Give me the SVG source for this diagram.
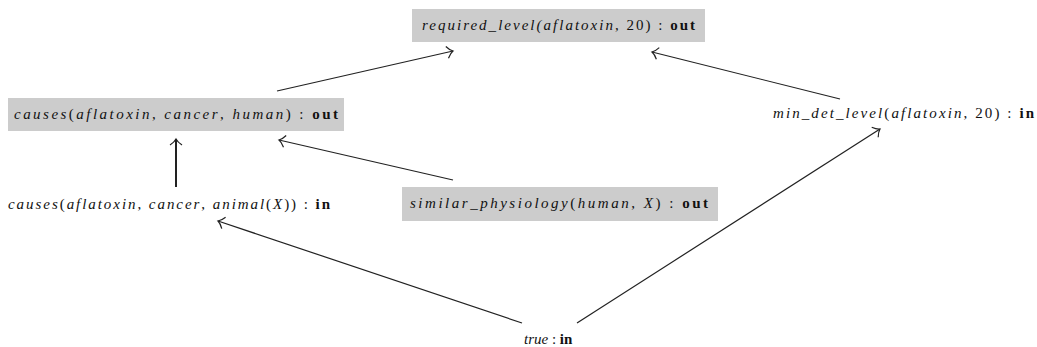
<svg xmlns="http://www.w3.org/2000/svg" width="1037" height="347" viewBox="0 0 1037 347">
<style>
.box{fill:#cccccc;stroke:none}
.t{font-family:"Liberation Serif","DejaVu Serif",serif;font-size:15px;font-style:italic;fill:#111}
.b{font-style:normal;font-weight:bold}
.n{font-style:normal}
.e{fill:none;stroke:#222;stroke-width:1.2}
.thick{stroke-width:2}
</style>
<defs>
<marker id="ah" markerUnits="userSpaceOnUse" markerWidth="16" markerHeight="16" viewBox="-10 -8 12 16" refX="0" refY="0" orient="auto">
<path d="M-6,-6 Q-3,-1.5 0,0 Q-3,1.5 -6,6" fill="none" stroke="#222" stroke-width="1.2"/>
</marker>
</defs>
<rect width="1037" height="347" fill="#fff"/>
<g id="connectors">
<path class="e" d="M277,91 L453,51" marker-end="url(#ah)"/>
<path class="e" d="M840,99 L652,52" marker-end="url(#ah)"/>
<path class="e thick" d="M176,187 L176,139" marker-end="url(#ah)"/>
<path class="e" d="M453,180 L279,140" marker-end="url(#ah)"/>
<path class="e" d="M522,323 L218,221" marker-end="url(#ah)"/>
<path class="e" d="M577,323 L880,129" marker-end="url(#ah)"/>
</g>
<g id="n_required">
<rect class="box" x="412" y="9" width="293" height="33"/>
<text class="t" x="422" y="30" textLength="273" lengthAdjust="spacing">required_level(aflatoxin<tspan class="n">, 20) : </tspan><tspan class="b">out</tspan></text>
</g>
<g id="n_causes_human">
<rect class="box" x="8" y="98" width="336" height="33"/>
<text class="t" x="14" y="119" textLength="324" lengthAdjust="spacing">causes<tspan class="n">(</tspan>aflatoxin<tspan class="n">, </tspan>cancer<tspan class="n">, </tspan>human<tspan class="n">) : </tspan><tspan class="b">out</tspan></text>
</g>
<g id="n_causes_animal">
<text class="t" x="8" y="209" textLength="322" lengthAdjust="spacing">causes<tspan class="n">(</tspan>aflatoxin<tspan class="n">, </tspan>cancer<tspan class="n">, </tspan>animal<tspan class="n">(</tspan>X<tspan class="n">)) : </tspan><tspan class="b">in</tspan></text>
</g>
<g id="n_similar">
<rect class="box" x="402" y="187" width="316" height="34"/>
<text class="t" x="410" y="208" textLength="298" lengthAdjust="spacing">similar_physiology<tspan class="n">(</tspan>human<tspan class="n">, </tspan>X<tspan class="n">) : </tspan><tspan class="b">out</tspan></text>
</g>
<g id="n_min_det">
<text class="t" x="773" y="118" textLength="261" lengthAdjust="spacing">min_det_level<tspan class="n">(</tspan>aflatoxin<tspan class="n">, 20) : </tspan><tspan class="b">in</tspan></text>
</g>
<g id="n_true">
<text class="t" x="524" y="344">true <tspan class="n">: </tspan><tspan class="b">in</tspan></text>
</g>
</svg>
